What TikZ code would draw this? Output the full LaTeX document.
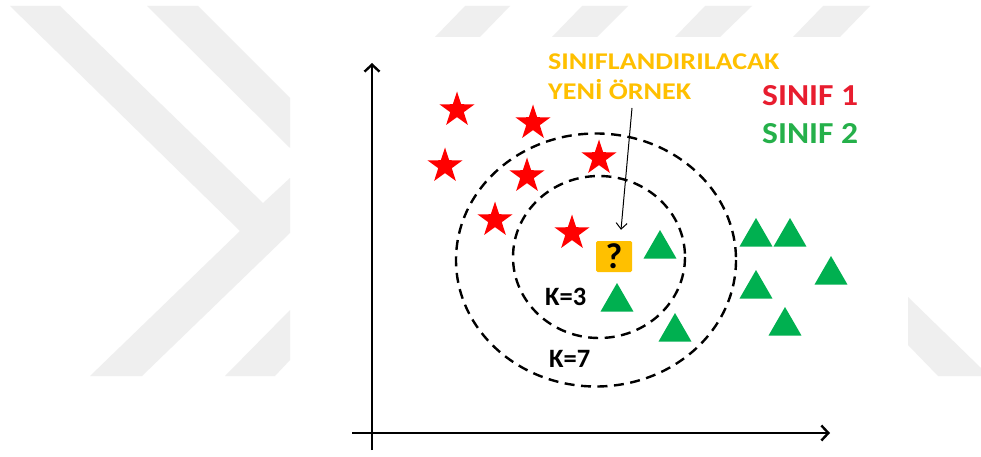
\documentclass[tikz,border=0pt]{standalone}
\usepackage{fontspec}
\setmainfont{Carlito}
\usetikzlibrary{arrows.meta,shapes.geometric,calc}
\definecolor{wm}{HTML}{EFEFEF}
\definecolor{starred}{HTML}{FF0000}
\definecolor{trigreen}{HTML}{00B050}
\definecolor{qorange}{HTML}{FFC000}
\definecolor{c1red}{HTML}{E81D2F}
\definecolor{c2green}{HTML}{25B04A}
\tikzset{
  starpt/.style={star, star points=5, star point ratio=2.6, fill=starred, draw=none, inner sep=0pt, minimum size=37pt},
  tript/.style={regular polygon, regular polygon sides=3, fill=trigreen, draw=none, inner sep=0pt, minimum size=38pt},
  qbox/.style={fill=qorange, draw=none, rounded corners=1.5pt, minimum width=36pt, minimum height=31pt, inner sep=0pt, font=\bfseries\fontsize{36}{36}\selectfont},
  axisline/.style={line width=2.6pt, -{Straight Barb[length=7pt,width=15pt,line width=2.4pt]}},
  kcircle/.style={draw=black, line width=2.4pt, dash pattern=on 10pt off 6.5pt},
  thinarrow/.style={line width=1pt, -{Straight Barb[length=6pt,width=11pt,line width=1pt]}},
  lbl/.style={inner sep=0pt, anchor=base west},
  wmshape/.style={fill=wm, draw=none}
}
\begin{document}
\begin{tikzpicture}[x=1pt,y=-1pt]
\useasboundingbox (0,0) rectangle (981,457);
\fill[white] (0,0) rectangle (981,457);
% watermark
\fill[wmshape] (10,6) -- (60,6) -- (263,203) -- (290,178) -- (290,233) -- (142,376) -- (90,376) -- (240,231) -- cycle;
\fill[wmshape] (147,6) -- (198,6) -- (290,98) -- (290,148) -- cycle;
\fill[wmshape] (290,310) -- (290,360) -- (275,376) -- (225,376) -- cycle;
\fill[wmshape] (435,37) -- (480,37) -- (510,6) -- (465,6) -- cycle;
\fill[wmshape] (552,37) -- (597,37) -- (628,6) -- (582,6) -- cycle;
\fill[wmshape] (675,37) -- (720,37) -- (752,6) -- (705,6) -- cycle;
\fill[wmshape] (793,37) -- (840,37) -- (870,6) -- (823,6) -- cycle;
\fill[wmshape] (908,297) -- (981,368) -- (981,376) -- (938,376) -- (908,345) -- cycle;
% axes
\coordinate (yb) at (372,450);
\coordinate (yt) at (372,63);
\coordinate (xl) at (352,433);
\coordinate (xr) at (830,433);
\draw[axisline] (yb) -- (yt);
\draw[axisline] (xl) -- (xr);
% circles
\draw[kcircle] (596,260) ellipse [x radius=140, y radius=126.5];
\draw[kcircle] (599,257) ellipse [x radius=86, y radius=81];
% stars
\node[starpt] (s1) at (457,110) {};
\node[starpt] (s2) at (533,123) {};
\node[starpt] (s3) at (445,166) {};
\node[starpt] (s4) at (599,158) {};
\node[starpt] (s5) at (527,176) {};
\node[starpt] (s6) at (495,220) {};
\node[starpt] (s7) at (572,233) {};
% triangles
\node[tript] (t1) at (660,249) {};
\node[tript] (t2) at (617,302) {};
\node[tript] (t3) at (675,332) {};
\node[tript] (t4) at (756,237) {};
\node[tript] (t5) at (790,237) {};
\node[tript] (t6) at (831,275) {};
\node[tript] (t7) at (756,289) {};
\node[tript] (t8) at (785,326) {};
% query box
\node[qbox] (q) at (614,256.5) {?};
% labels
\node[lbl, text=qorange, font=\bfseries\fontsize{24}{28}\selectfont] (l1) at (548,70) {\scalebox{1.17}[1]{SINIFLANDIRILACAK}};
\node[lbl, text=qorange, font=\bfseries\fontsize{24}{28}\selectfont] (l2) at (548,100) {\scalebox{1.17}[1]{YENİ ÖRNEK}};
\node[lbl, text=c1red, font=\bfseries\fontsize{30.5}{34}\selectfont] (c1) at (762,106) {\scalebox{1.1}[1]{SINIF 1}};
\node[lbl, text=c2green, font=\bfseries\fontsize{30.5}{34}\selectfont] (c2) at (762,144) {\scalebox{1.1}[1]{SINIF 2}};
\node[lbl, text=black, font=\bfseries\fontsize{26.5}{28}\selectfont] (k3) at (545,305) {K=3};
\node[lbl, text=black, font=\bfseries\fontsize{26.5}{28}\selectfont] (k7) at (549,367) {K=7};
% arrow to query
\coordinate (as) at (632,108);
\draw[thinarrow] (as) -- ([xshift=7pt,yshift=11pt]q.north);
\end{tikzpicture}
\end{document}
